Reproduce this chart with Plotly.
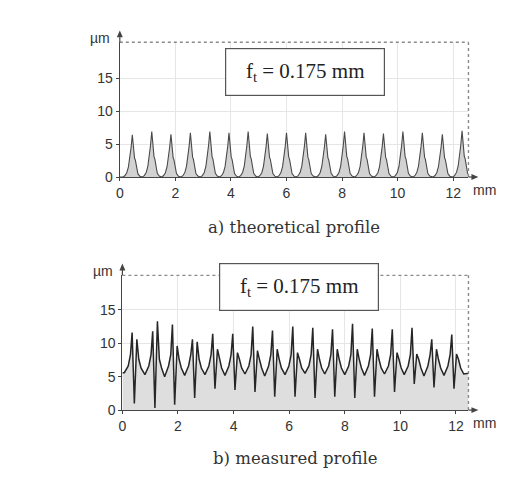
import plotly.graph_objects as go

W, H = 528, 484

# ---- a) theoretical profile: cusp positions (mm) and heights (µm)
theo_peak_x = [0.45, 1.15, 1.84, 2.54, 3.24, 3.93, 4.62, 5.31, 6.00, 6.69,
               7.41, 8.09, 8.79, 9.49, 10.19, 10.89, 11.61, 12.32]
theo_peak_h = [6.4, 6.9, 6.5, 6.7, 6.9, 6.7, 6.9, 6.6, 6.7, 6.7,
               6.5, 6.9, 6.7, 6.6, 6.9, 6.7, 6.5, 7.0]
# one cusp: offsets from the tip (mm) and height relative to the tip
cusp_dx = [-0.34, -0.27, -0.2, -0.14, -0.09, -0.045, 0.0, 0.04, 0.08, 0.11, 0.15, 0.2, 0.27]
cusp_rel = [0.0, 0.03, 0.1, 0.24, 0.44, 0.7, 1.0, 0.66, 0.45, 0.4, 0.24, 0.08, 0.02]

# ---- b) measured profile: per-feed mark values (mm, µm)
meas_dip_x = [0.43, 1.17, 1.88, 2.60, 3.33, 4.05, 4.77, 5.48, 6.21, 6.93,
              7.64, 8.36, 9.07, 9.79, 10.50, 11.21, 11.93]
meas_dip = [1.0, 0.3, 0.8, 1.8, 3.2, 3.0, 2.7, 2.0, 2.0, 1.8,
            2.0, 1.8, 2.0, 2.7, 3.9, 3.4, 3.2]
meas_peak1 = [11.6, 11.8, 12.8, 10.6, 11.4, 11.4, 12.5, 11.9, 12.5, 12.3,
              12.1, 12.9, 12.2, 12.1, 12.3, 10.6, 11.3]
meas_peak2 = [10.6, 13.3, 9.6, 10.2, 9.1, 8.6, 8.9, 9.1, 8.6, 9.1,
              9.1, 9.1, 9.1, 8.6, 8.4, 9.1, 8.4]
meas_valley = [5.6, 5.3, 5.0, 5.2, 5.3, 5.2, 5.4, 5.1, 5.3, 5.5,
               5.4, 5.3, 5.2, 5.4, 5.3, 5.1, 5.2, 5.4]
# offsets of the points of one feed mark relative to its dip (mm)
mark_dx = [-0.36, -0.22, -0.14, -0.08, 0.0, 0.09, 0.16, 0.24]
mark_rise = [6.6, 8.3]
mark_fall = [7.6, 6.3]

x_ticks = [0, 2, 4, 6, 8, 10, 12]
y_ticks = [0, 5, 10, 15]

# build the theoretical trace
tx, ty = [0.0], [0.0]
for px, ph in zip(theo_peak_x, theo_peak_h):
    for dx, r in zip(cusp_dx, cusp_rel):
        tx.append(px + dx)
        ty.append(ph * r)

# build the measured trace
mx, my = [0.0], [meas_valley[0]]
for i, d in enumerate(meas_dip_x):
    vals = [meas_valley[i], mark_rise[0], mark_rise[1], meas_peak1[i],
            meas_dip[i], meas_peak2[i], mark_fall[0], mark_fall[1]]
    for dx, v in zip(mark_dx, vals):
        mx.append(d + dx)
        my.append(v)
mx.append(meas_dip_x[-1] + 0.35)
my.append(meas_valley[-1])
mx.append(12.6)
my.append(5.6)


def fx(p):
    return p / W


def fy(p):
    return 1 - p / H


fig = go.Figure()
fig.add_trace(go.Scatter(x=tx, y=ty, mode="lines", fill="tozeroy",
                         fillcolor="#d2d2d2", line=dict(color="#4a4a4a", width=1.1),
                         xaxis="x", yaxis="y", hoverinfo="skip"))
fig.add_trace(go.Scatter(x=mx, y=my, mode="lines", fill="tozeroy",
                         fillcolor="#dedede", line=dict(color="#262626", width=1.5),
                         xaxis="x2", yaxis="y2", hoverinfo="skip"))

tickfont = dict(family="Liberation Sans, Arial", size=14, color="#333")
axis_common = dict(showline=True, linecolor="#444", linewidth=1.2, ticks="outside",
                   ticklen=3, tickcolor="#444", showgrid=True, gridcolor="#e6e6e6",
                   zeroline=False, tickfont=tickfont, fixedrange=True)

panels = [
    # (xaxis key, yaxis key, left px, bottom px, top px, x max, y max)
    ("xaxis", "yaxis", 116.7, 180, 43, 12.55, 20.45),
    ("xaxis2", "yaxis2", 119.3, 417, 280, 12.45, 20.15),
]
layout = dict(width=W, height=H, margin=dict(l=0, r=0, t=0, b=0),
              paper_bgcolor="white", plot_bgcolor="white", showlegend=False)
for xk, yk, left, bot, top, xmax, ymax in panels:
    layout[xk] = dict(axis_common, domain=[fx(left), fx(468)], range=[0, xmax],
                      tickvals=x_ticks, ticktext=[str(v) for v in x_ticks],
                      anchor="y" if xk == "xaxis" else "y2")
    layout[yk] = dict(axis_common, domain=[fy(bot), fy(top)], range=[0, ymax],
                      tickvals=y_ticks, anchor="x" if yk == "yaxis" else "x2")
fig.update_layout(**layout)

annotations = []
shapes = []
axis_col = "#444"
for i, (xr, yr) in enumerate([("x", "y"), ("x2", "y2")]):
    left, bot, top = panels[i][2], panels[i][3], panels[i][4]
    # dotted frame on top and right
    shapes.append(dict(type="line", xref=f"{xr} domain", yref=f"{yr} domain",
                       x0=0, x1=1, y0=1, y1=1, line=dict(color="#8a8a8a", width=1.4, dash="dot")))
    shapes.append(dict(type="line", xref=f"{xr} domain", yref=f"{yr} domain",
                       x0=1, x1=1, y0=0, y1=1, line=dict(color="#8a8a8a", width=1.4, dash="dot")))
    # axis extensions with arrow heads
    shapes.append(dict(type="line", xref="paper", yref="paper",
                       x0=fx(left), x1=fx(left), y0=fy(top), y1=fy(top - 8),
                       line=dict(color=axis_col, width=1.2)))
    shapes.append(dict(type="path", xref="paper", yref="paper",
                       path=f"M {fx(left)},{fy(top - 12)} L {fx(left - 3)},{fy(top - 5)} "
                            f"L {fx(left + 3)},{fy(top - 5)} Z",
                       fillcolor=axis_col, line=dict(width=0)))
    shapes.append(dict(type="line", xref="paper", yref="paper",
                       x0=fx(468), x1=fx(473), y0=fy(bot), y1=fy(bot),
                       line=dict(color=axis_col, width=1.2)))
    shapes.append(dict(type="path", xref="paper", yref="paper",
                       path=f"M {fx(478)},{fy(bot)} L {fx(471)},{fy(bot - 3)} "
                            f"L {fx(471)},{fy(bot + 3)} Z",
                       fillcolor=axis_col, line=dict(width=0)))
    # units
    annotations.append(dict(xref="paper", yref="paper", x=fx(left - 20), y=fy(top - 4),
                            xanchor="center", yanchor="middle",
                            text="µm", showarrow=False, font=tickfont))
    annotations.append(dict(xref="paper", yref="paper", x=fx(484), y=fy(bot + 13),
                            xanchor="center", yanchor="middle",
                            text="mm", showarrow=False, font=tickfont))

box_font = dict(family="Liberation Serif, Times New Roman", size=21, color="#222")
for cx, cy in [(303, 73), (297, 292)]:
    annotations.append(dict(xref="paper", yref="paper", x=fx(cx), y=fy(cy),
                            xanchor="center", yanchor="middle",
                            text="f<sub>t</sub> = 0.175 mm", showarrow=False,
                            font=box_font, bgcolor="white", bordercolor="#555",
                            borderwidth=1.2, width=152, height=40, borderpad=3))

cap_font = dict(family="DejaVu Serif, Liberation Serif", size=16.5, color="#333")
annotations.append(dict(xref="paper", yref="paper", x=fx(292), y=fy(231),
                        xanchor="center", yanchor="middle",
                        text="a) theoretical profile", showarrow=False, font=cap_font))
annotations.append(dict(xref="paper", yref="paper", x=fx(293), y=fy(466),
                        xanchor="center", yanchor="middle",
                        text="b) measured profile", showarrow=False, font=cap_font))

fig.update_layout(annotations=annotations, shapes=shapes)
fig.write_html("out.html")
